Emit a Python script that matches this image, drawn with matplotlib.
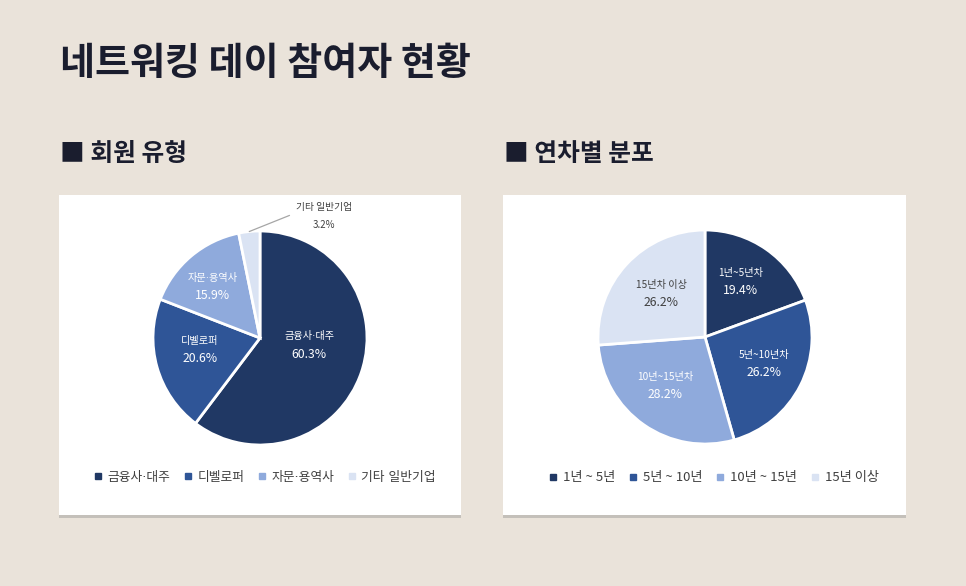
import math
import matplotlib
matplotlib.use("Agg")
import matplotlib.pyplot as plt
from matplotlib.patches import Rectangle
from matplotlib.lines import Line2D

plt.rcParams['font.family'] = ['Noto Sans CJK KR', 'DejaVu Sans']
# narrow middle dot comes from DejaVu, hangul falls back to Noto CJK
DOT_FONT = ['DejaVu Sans', 'Noto Sans CJK KR']

# data
member_labels = ['금융사·대주', '디벨로퍼', '자문·용역사', '기타 일반기업']
member_values = [60.3, 20.6, 15.9, 3.2]
career_labels = ['1년~5년차', '5년~10년차', '10년~15년차', '15년차 이상']
career_legend = ['1년 ~ 5년', '5년 ~ 10년', '10년 ~ 15년', '15년 이상']
career_values = [19.4, 26.2, 28.2, 26.2]

colors = ['#203864', '#2F5597', '#8FAADC', '#DAE3F3']
text_colors = ['white', 'white', 'white', '#404040']

BG = '#EAE3DA'
DARK = '#1A1D2E'
W, H = 966, 586


def box(x0, y0, x1, y1):
    # pixel box (top-left origin) -> figure fraction rect
    return [x0 / W, 1 - y1 / H, (x1 - x0) / W, (y1 - y0) / H]


fig = plt.figure(figsize=(W / 100, H / 100), dpi=100, facecolor=BG)

fig.text(60 / W, 1 - 63 / H, '네트워킹 데이 참여자 현황', fontsize=27.4, fontweight='bold',
         color=DARK, va='center', ha='left')
fig.text(60 / W, 1 - 154 / H, '■ 회원 유형', fontsize=17.8, fontweight='bold',
         color=DARK, va='center', ha='left')
fig.text(504 / W, 1 - 154 / H, '■ 연차별 분포', fontsize=17.8, fontweight='bold',
         color=DARK, va='center', ha='left')

# panels with bottom shadow
for x0, x1 in [(59, 461), (503, 906)]:
    fig.patches.append(Rectangle((x0 / W, 1 - 518 / H), (x1 - x0) / W, (518 - 196) / H,
                                 transform=fig.transFigure, facecolor='#C4C0BA',
                                 edgecolor='none', zorder=-2))
    fig.patches.append(Rectangle((x0 / W, 1 - 515 / H), (x1 - x0) / W, (515 - 195) / H,
                                 transform=fig.transFigure, facecolor='white',
                                 edgecolor='none', zorder=-1))


def label_font(s):
    return DOT_FONT if '·' in s else plt.rcParams['font.family']


def draw_pie(cx, cy, r, values, labels, legend_labels, label_xy, legend_x, legend_y,
             legend_size, outside_last):
    side = 3 * r
    ax = fig.add_axes(box(cx - side / 2, cy - side / 2, cx + side / 2, cy + side / 2))
    ax.set_zorder(1)
    ax.pie(values, colors=colors, startangle=90, counterclock=False,
           wedgeprops=dict(edgecolor='white', linewidth=2))
    ax.set_xlim(-1.5, 1.5)
    ax.set_ylim(-1.5, 1.5)
    ax.set_aspect('equal')
    ax.axis('off')
    start = 90.0
    total = sum(values)
    for i, (v, lab) in enumerate(zip(values, labels)):
        span = 360.0 * v / total
        mid = math.radians(start - span / 2)
        start -= span
        x, y = label_xy[i]
        if outside_last and i == len(values) - 1:
            ax.annotate(f'{lab}\n{v:.1f}%', xy=(math.cos(mid), math.sin(mid)),
                        xytext=(x, y), ha='center', va='center', fontsize=7,
                        color='#404040', linespacing=1.9,
                        arrowprops=dict(arrowstyle='-', color='#A6A6A6', lw=0.9,
                                        relpos=(0.0, 0.62), shrinkA=3, shrinkB=0))
            continue
        ax.text(x, y + 0.08, lab, ha='center', va='center', fontsize=7.3,
                color=text_colors[i], family=label_font(lab))
        ax.text(x, y - 0.085, f'{v:.1f}%', ha='center', va='center', fontsize=8.8,
                color=text_colors[i])
    handles = [Line2D([], [], marker='s', linestyle='none', markersize=4.5,
                      markerfacecolor=c, markeredgecolor=c) for c in colors]
    fam = DOT_FONT if any('·' in s for s in legend_labels) else plt.rcParams['font.family']
    ax.legend(handles, legend_labels, loc='center', ncol=4, frameon=False,
              bbox_to_anchor=(legend_x / W, 1 - legend_y / H), bbox_transform=fig.transFigure,
              prop=dict(family=fam, size=legend_size), handlelength=0.6, handletextpad=0.45,
              columnspacing=1.05, labelcolor='#404040')


draw_pie(260, 338, 107, member_values, member_labels, member_labels,
         [(0.46, -0.065), (-0.56, -0.11), (-0.44, 0.48), (0.60, 1.14)], 265, 477, 9.2, True)
draw_pie(705, 337, 107, career_values, career_labels, career_legend,
         [(0.33, 0.52), (0.55, -0.25), (-0.37, -0.45), (-0.41, 0.41)], 714, 478, 9.5, False)

fig.savefig('out.png', dpi=100, facecolor=BG)
